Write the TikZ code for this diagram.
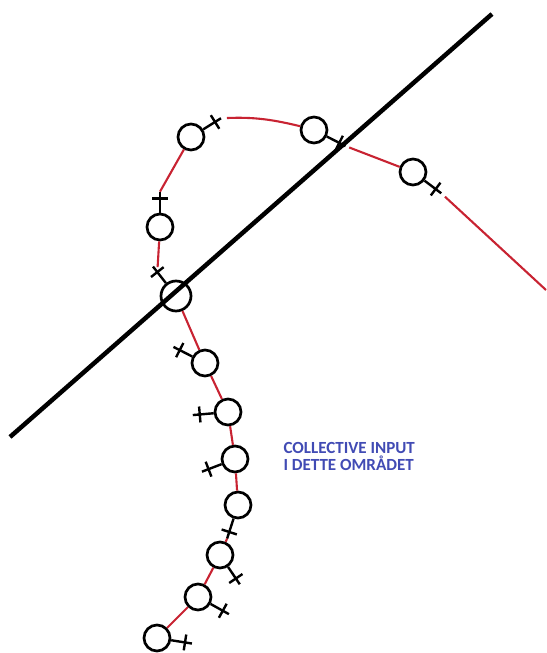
\documentclass[tikz,border=0pt]{standalone}
\usepackage{fontspec}
\newfontfamily\notefont{Carlito}
\usepackage{xcolor}
\usepackage{tikz}
\definecolor{wirered}{RGB}{200,35,50}
\definecolor{noteblue}{RGB}{65,75,180}

\begin{document}
\begin{tikzpicture}[x=1pt, y=1pt,
  ven/.style={draw, circle, line width=2.7pt, minimum size=26pt, inner sep=0pt},
  bigven/.style={ven, minimum size=30pt},
  stem/.style={line width=2.4pt},
  wire/.style={draw=wirered, line width=2.1pt},
  divider/.style={line width=4.5pt},
  note/.style={text=noteblue, font=\notefont\bfseries\fontsize{17}{17}\selectfont,
               align=left, anchor=west}]

  \useasboundingbox (0,0) rectangle (546,653);

  %% symbols along the curve
  \node[ven]    (v1)  at (191,516) {};
  \node[ven]    (v2)  at (314,523) {};
  \node[ven]    (v3)  at (413,481) {};
  \node[ven]    (v4)  at (160,426) {};
  \node[bigven] (v5)  at (176,357) {};
  \node[ven]    (v6)  at (205,290) {};
  \node[ven]    (v7)  at (228,241) {};
  \node[ven]    (v8)  at (235,194) {};
  \node[ven]    (v9)  at (238,148) {};
  \node[ven]    (v10) at (220,98)  {};
  \node[ven]    (v11) at (198,56)  {};
  \node[ven]    (v12) at (157,15)  {};

  %% stems and crossbars
  \foreach \v/\a in {v1/32, v2/-27, v3/-37, v4/90, v5/128, v6/153, v7/185,
                     v8/201, v9/252, v10/-56, v11/-29, v12/-9} {
    \draw[stem] (\v.\a) -- ++(\a:21) coordinate (t\v);
    \draw[stem] (\v.\a) ++(\a:14) coordinate (c\v) ++(\a+90:8) -- ++(\a-90:16);
  }

  %% red curve
  \coordinate (tail) at (546,363);
  \draw[wire, shorten <=5pt] (tv3) -- (tail);
  \draw[wire, shorten <=4pt] (tv2) -- (v3);
  \draw[wire, shorten <=6pt] (tv1) to[bend left=8] (v2);
  \draw[wire] (v1) -- (tv4);
  \draw[wire, shorten >=5pt] (v4) -- (cv5);
  \draw[wire] (v5) -- (v6);
  \draw[wire] (v6) -- (v7);
  \draw[wire] (v7) -- (v8);
  \draw[wire] (v8) -- (v9);
  \draw[wire] (tv9) -- (v10);
  \draw[wire] (v10) -- (v11);
  \draw[wire] (v11) -- (v12);

  %% dividing line
  \coordinate (lowend)  at (10,216);
  \coordinate (highend) at (492,639);
  \draw[divider] (lowend) -- (highend);

  %% label
  \node[note] (area) at (280,197) {COLLECTIVE INPUT\\I DETTE OMRÅDET};
\end{tikzpicture}
\end{document}
